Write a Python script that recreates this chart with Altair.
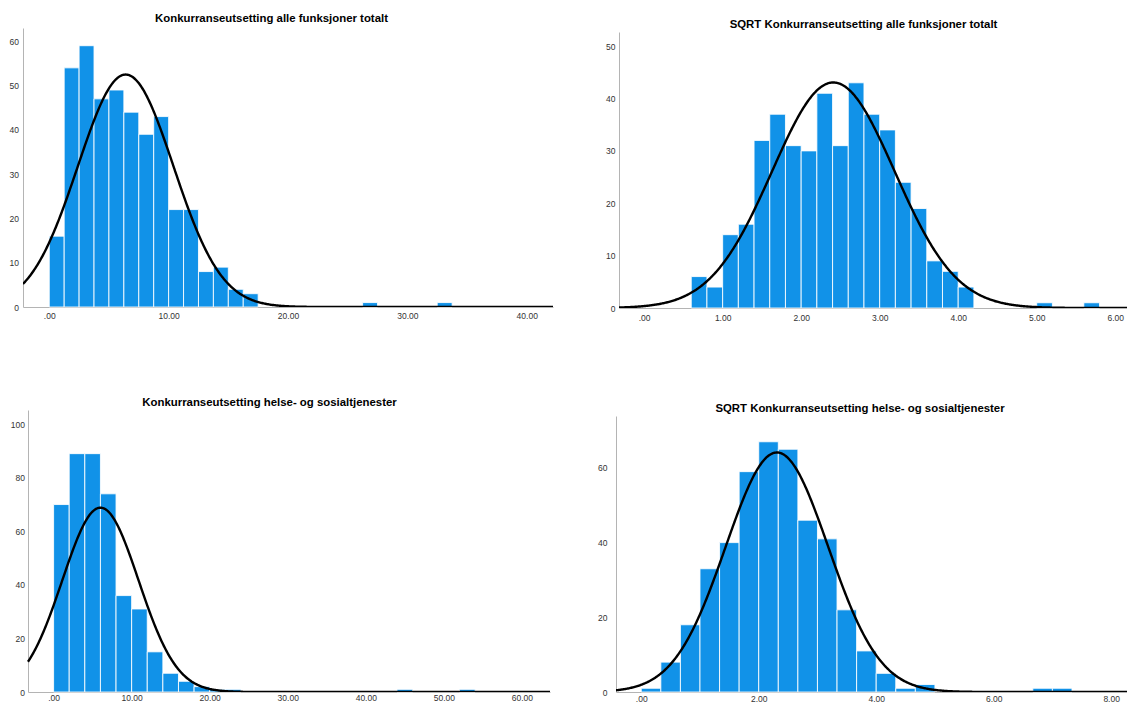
import altair as alt
import numpy as np
import pandas as pd

FONT = "Liberation Sans"
BAR_COLOR = "#1192e8"
AXIS_COLOR = "#b4b4b4"
LABEL_COLOR = "#333333"

# ---------------- data ----------------
titles = [
    "Konkurranseutsetting alle funksjoner totalt",
    "SQRT Konkurranseutsetting alle funksjoner totalt",
    "Konkurranseutsetting helse- og sosialtjenester",
    "SQRT Konkurranseutsetting helse- og sosialtjenester",
]

# Panel 1: Konkurranseutsetting alle funksjoner totalt
p1_bin_width = 1.25
p1_bin_start = [0, 1.25, 2.5, 3.75, 5, 6.25, 7.5, 8.75, 10, 11.25, 12.5, 13.75,
                15, 16.25, 26.25, 32.5]
p1_counts = [16, 54, 59, 47, 49, 44, 39, 43, 22, 22, 8, 9, 4, 3, 1, 1]
p1_mean, p1_sd = 6.4, 4.0
p1_xticks = [0, 10, 20, 30, 40]
p1_yticks = [0, 10, 20, 30, 40, 50, 60]

# Panel 2: SQRT Konkurranseutsetting alle funksjoner totalt
p2_bin_width = 0.2
p2_bin_start = [0.6, 0.8, 1.0, 1.2, 1.4, 1.6, 1.8, 2.0, 2.2, 2.4, 2.6, 2.8, 3.0,
                3.2, 3.4, 3.6, 3.8, 4.0, 5.0, 5.6]
p2_counts = [6, 4, 14, 16, 32, 37, 31, 30, 41, 31, 43, 37, 34, 24, 19, 9, 7, 4, 1, 1]
p2_mean, p2_sd = 2.41, 0.78
p2_xticks = [0, 1, 2, 3, 4, 5, 6]
p2_yticks = [0, 10, 20, 30, 40, 50]

# Panel 3: Konkurranseutsetting helse- og sosialtjenester
p3_bin_width = 2
p3_bin_start = [0, 2, 4, 6, 8, 10, 12, 14, 16, 18, 20, 22, 44, 52]
p3_counts = [70, 89, 89, 74, 36, 31, 15, 7, 4, 2, 1, 1, 1, 1]
p3_mean, p3_sd = 6.0, 4.88
p3_xticks = [0, 10, 20, 30, 40, 50, 60]
p3_yticks = [0, 20, 40, 60, 80, 100]

# Panel 4: SQRT Konkurranseutsetting helse- og sosialtjenester
p4_bin_width = 1 / 3
p4_bin_start = [0, 1/3, 2/3, 1, 4/3, 5/3, 2, 7/3, 8/3, 3, 10/3, 11/3, 4, 13/3,
                14/3, 20/3, 7]
p4_counts = [1, 8, 18, 33, 40, 59, 67, 65, 46, 41, 22, 11, 5, 1, 2, 1, 1]
p4_mean, p4_sd = 2.31, 0.873
p4_xticks = [0, 2, 4, 6, 8]
p4_yticks = [0, 20, 40, 60]


def panel(title, bin_start, bin_width, counts, mean, sd, xticks, yticks, lay):
    n = sum(counts)
    bars = pd.DataFrame({
        "x": bin_start,
        "x2": [b + bin_width for b in bin_start],
        "y": counts,
    })
    xs = np.linspace(lay["xdom"][0], lay["xdom"][1], 600)
    ys = n * bin_width / (sd * np.sqrt(2 * np.pi)) * np.exp(-0.5 * ((xs - mean) / sd) ** 2)
    curve = pd.DataFrame({"x": xs, "y": ys})

    xscale = alt.Scale(domain=lay["xdom"], range=lay["xrange"], nice=False,
                       zero=False, padding=0)
    yscale = alt.Scale(domain=lay["ydom"], range=lay["yrange"], nice=False,
                       zero=True, padding=0)
    xaxis = alt.Axis(
        values=xticks, title=None, grid=False, ticks=False,
        labelExpr="datum.value == 0 ? '.00' : format(datum.value, '.2f')",
        domainColor=AXIS_COLOR, domainWidth=1,
        labelFont=FONT, labelFontSize=8.5, labelColor=LABEL_COLOR,
        labelPadding=lay["xlabpad"], labelFlush=False, labelOverlap=False,
    )
    yaxis = alt.Axis(
        values=yticks, title=None, grid=False, ticks=False, format="d",
        domainColor=AXIS_COLOR, domainWidth=1,
        labelFont=FONT, labelFontSize=8.5, labelColor=LABEL_COLOR,
        labelPadding=lay["ylabpad"], offset=lay["yoffset"],
        labelFlush=False, labelOverlap=False,
    )
    bar_layer = alt.Chart(bars).mark_bar(
        color=BAR_COLOR, stroke="#ffffff", strokeWidth=1, strokeOpacity=0.85,
        orient="vertical",
    ).encode(
        x=alt.X("x:Q", scale=xscale, axis=xaxis),
        x2="x2:Q",
        y=alt.Y("y:Q", scale=yscale, axis=yaxis),
        y2=alt.datum(0),
    )
    line_layer = alt.Chart(curve).mark_line(
        color="black", strokeWidth=2.4, clip=True
    ).encode(x="x:Q", y="y:Q")

    return alt.layer(bar_layer, line_layer).properties(
        width=lay["width"], height=lay["height"],
        title=alt.TitleParams(
            text=title, font=FONT, fontSize=11.4, fontWeight="bold", color="black",
            anchor="middle", frame="group", baseline="middle",
            offset=0, dx=lay["tdx"], dy=lay["tdy"],
        ),
    )


lay1 = dict(xdom=[-2.2, 42.2], ydom=[0, 63], width=530, height=279,
            xrange=[0, 530], yrange=[279, 0], yoffset=0,
            ylabpad=4.5, xlabpad=4, tdy=2, tdx=-16.5)
lay2 = dict(xdom=[-0.32, 6.15], ydom=[0, 52.7], width=511, height=280,
            xrange=[3, 511], yrange=[280, 4], yoffset=-3,
            ylabpad=4, xlabpad=5, tdy=8, tdx=-8)
lay3 = dict(xdom=[-3.28, 63.6], ydom=[0, 105.3], width=527, height=282,
            xrange=[5, 527], yrange=[282, 0], yoffset=-5,
            ylabpad=3.5, xlabpad=1, tdy=4.7, tdx=-17)
lay4 = dict(xdom=[-0.43, 8.27], ydom=[0, 73.9], width=511, height=282,
            xrange=[0, 511], yrange=[282, 6], yoffset=0,
            ylabpad=9, xlabpad=2.5, tdy=10, tdx=-11.5)

c1 = panel(titles[0], p1_bin_start, p1_bin_width, p1_counts, p1_mean, p1_sd, p1_xticks, p1_yticks, lay1)
c2 = panel(titles[1], p2_bin_start, p2_bin_width, p2_counts, p2_mean, p2_sd, p2_xticks, p2_yticks, lay2)
c3 = panel(titles[2], p3_bin_start, p3_bin_width, p3_counts, p3_mean, p3_sd, p3_xticks, p3_yticks, lay3)
c4 = panel(titles[3], p4_bin_start, p4_bin_width, p4_counts, p4_mean, p4_sd, p4_xticks, p4_yticks, lay4)

chart = alt.concat(
    c1, c2, c3, c4, columns=2, bounds="flush",
    spacing={"row": 102, "column": 63},
).properties(
    padding={"left": 1, "top": 4, "right": 0, "bottom": 0},
    background="white",
).configure_view(strokeWidth=0, stroke="transparent")

chart.save("out.html", embed_options={"renderer": "svg", "actions": False})
